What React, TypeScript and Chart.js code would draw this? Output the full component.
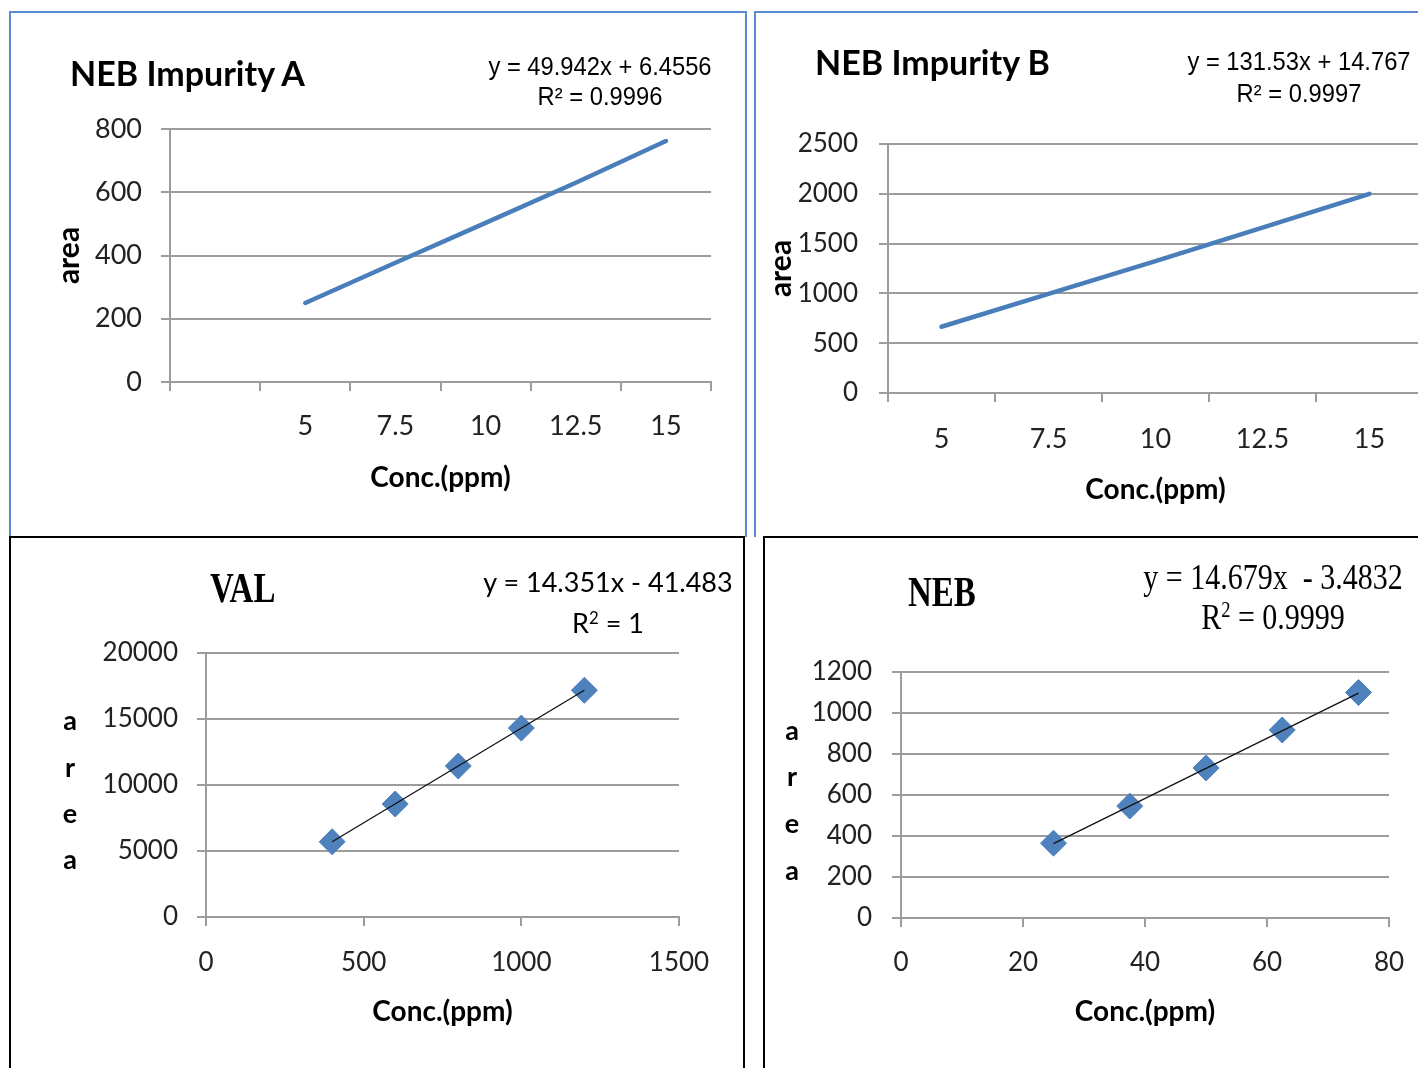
import React, { useEffect, useRef } from "react";
import { Chart, registerables } from "chart.js";

Chart.register(...registerables);

// ---------------- data ----------------
const impurityAConc = ["", "5", "7.5", "10", "12.5", "15"];
const impurityAArea = [null, 250, 377, 503, 630, 762];
const impurityARange = [0, 800];
const impurityAStep = 200;

const impurityBConc = ["5", "7.5", "10", "12.5", "15"];
const impurityBArea = [665, 995, 1325, 1660, 2000];
const impurityBRange = [0, 2500];
const impurityBStep = 500;

const valConc = [400, 600, 800, 1000, 1200];
const valArea = [5700, 8560, 11440, 14310, 17180];
const valTrendConc = [400, 1200];
const valTrendArea = [5700, 17180];
const valXRange = [0, 1500];
const valXStep = 500;
const valYRange = [0, 20000];
const valYStep = 5000;

const nebConc = [25, 37.5, 50, 62.5, 75];
const nebArea = [365, 546, 732, 917, 1100];
const nebTrendConc = [25, 75];
const nebTrendArea = [363, 1097];
const nebXRange = [0, 80];
const nebXStep = 20;
const nebYRange = [0, 1200];
const nebYStep = 200;

const titles = ["NEB Impurity A", "NEB Impurity B", "VAL", "NEB"];
const equations = [
  "y = 49.942x + 6.4556",
  "y = 131.53x + 14.767",
  "y = 14.351x - 41.483",
  "y = 14.679x  - 3.4832",
];
const rSquared = ["0.9996", "0.9997", "1", "0.9999"];
const xAxisTitle = "Conc.(ppm)";
const yAxisTitle = "area";

// ---------------- styles ----------------
const SANS = "Lato, 'Open Sans', sans-serif";
const ARIAL = "'Liberation Sans', Arial, sans-serif";
const SERIF = "'Liberation Serif', 'Times New Roman', serif";
const GRID = "#9c9c9c";
const TICK = "#222222";
const LINE_BLUE = "#4a7ebb";
const MARKER_BLUE = "#4f81bd";
const PANEL_BLUE = "#5b8bd6";

const fmt = (v: any) => String(v);

function baseOptions(padding: any, scales: any) {
  return {
    responsive: false,
    maintainAspectRatio: false,
    animation: false,
    devicePixelRatio: 1,
    events: [],
    layout: { padding },
    plugins: {
      legend: { display: false },
      tooltip: { enabled: false },
      title: { display: false },
    },
    scales,
  };
}

function gridOpts(onArea: boolean, offset = false) {
  return {
    offset,
    drawOnChartArea: onArea,
    drawTicks: true,
    tickLength: 9,
    color: GRID,
    tickColor: GRID,
    lineWidth: 2,
    tickWidth: 2,
  };
}

function xTitle(padBottom: number) {
  return {
    display: true,
    text: xAxisTitle,
    color: "#000",
    font: { family: SANS, size: 28, weight: "bold", lineHeight: 1 },
    padding: { top: 0, bottom: padBottom },
  };
}

function categoryX(height: number, tickPad: number, titlePad: number, size: number) {
  return {
    type: "category",
    offset: true,
    afterFit: (s: any) => {
      s.height = height;
    },
    grid: gridOpts(false, true),
    border: { display: true, color: GRID, width: 2 },
    ticks: {
      padding: tickPad,
      color: TICK,
      font: { family: SANS, size, lineHeight: 1 },
      autoSkip: false,
      maxRotation: 0,
      minRotation: 0,
    },
    title: xTitle(titlePad),
  };
}

function linearX(range: number[], step: number, height: number, tickPad: number, titlePad: number, size: number) {
  return {
    type: "linear",
    min: range[0],
    max: range[1],
    afterFit: (s: any) => {
      s.height = height;
    },
    grid: gridOpts(false),
    border: { display: true, color: GRID, width: 2 },
    ticks: {
      stepSize: step,
      padding: tickPad,
      color: TICK,
      font: { family: SANS, size, lineHeight: 1 },
      autoSkip: false,
      maxRotation: 0,
      minRotation: 0,
      callback: fmt,
    },
    title: xTitle(titlePad),
  };
}

function linearY(range: number[], step: number, width: number, tickPad: number, size: number, titlePad: number | null) {
  return {
    type: "linear",
    min: range[0],
    max: range[1],
    afterFit: (s: any) => {
      s.width = width;
    },
    grid: gridOpts(true),
    border: { display: true, color: GRID, width: 2 },
    ticks: {
      stepSize: step,
      padding: tickPad,
      color: TICK,
      font: { family: SANS, size, lineHeight: 1 },
      callback: fmt,
    },
    title:
      titlePad === null
        ? { display: false }
        : {
            display: true,
            text: yAxisTitle,
            color: "#000",
            font: { family: SANS, size: 30, weight: "bold", lineHeight: 1 },
            padding: { top: titlePad, bottom: 0 },
          },
  };
}

const buildA = () => ({
  type: "line",
  data: {
    labels: impurityAConc,
    datasets: [
      {
        data: impurityAArea,
        borderColor: LINE_BLUE,
        backgroundColor: LINE_BLUE,
        borderWidth: 4.5,
        pointRadius: 0,
        tension: 0,
        borderCapStyle: "round",
        borderJoinStyle: "round",
      },
    ],
  },
  options: baseOptions(
    { left: 0, top: 117, right: 35, bottom: 0 },
    {
      x: categoryX(153, 22, 43, 27),
      y: linearY(impurityARange, impurityAStep, 160, 19, 27, 44),
    }
  ),
});

const buildB = () => ({
  type: "line",
  data: {
    labels: impurityBConc,
    datasets: [
      {
        data: impurityBArea,
        borderColor: LINE_BLUE,
        backgroundColor: LINE_BLUE,
        borderWidth: 4.5,
        pointRadius: 0,
        tension: 0,
        borderCapStyle: "round",
        borderJoinStyle: "round",
      },
    ],
  },
  options: baseOptions(
    { left: 0, top: 132, right: 52, bottom: 0 },
    {
      x: categoryX(142, 24, 31, 27),
      y: linearY(impurityBRange, impurityBStep, 133, 21, 26, 11),
    }
  ),
});

function scatterBuild(
  xs: number[],
  ys: number[],
  tx: number[],
  ty: number[],
  padding: any,
  x: any,
  y: any
) {
  return () => ({
    type: "scatter",
    data: {
      datasets: [
        {
          data: tx.map((v, i) => ({ x: v, y: ty[i] })),
          showLine: true,
          borderColor: "#111",
          borderWidth: 1.3,
          pointRadius: 0,
          order: 0,
        },
        {
          data: xs.map((v, i) => ({ x: v, y: ys[i] })),
          pointStyle: "rectRot",
          pointRadius: 13,
          backgroundColor: MARKER_BLUE,
          borderColor: MARKER_BLUE,
          borderWidth: 1,
          order: 1,
        },
      ],
    },
    options: baseOptions(padding, { x, y }),
  });
}

const buildC = scatterBuild(
  valConc,
  valArea,
  valTrendConc,
  valTrendArea,
  { left: 0, top: 116, right: 66, bottom: 0 },
  linearX(valXRange, valXStep, 151, 24, 42, 26),
  linearY(valYRange, valYStep, 196, 19, 26, null)
);

const buildD = scatterBuild(
  nebConc,
  nebArea,
  nebTrendConc,
  nebTrendArea,
  { left: 0, top: 135, right: 75, bottom: 0 },
  linearX(nebXRange, nebXStep, 150, 23, 42, 26),
  linearY(nebYRange, nebYStep, 137, 20, 26, null)
);

// ---------------- components ----------------
function ChartCanvas({ width, height, build }: { width: number; height: number; build: () => any }) {
  const ref = useRef<HTMLCanvasElement>(null);
  useEffect(() => {
    if (!ref.current) return;
    const chart = new Chart(ref.current, build());
    return () => chart.destroy();
  }, []);
  return (
    <canvas
      ref={ref}
      width={width}
      height={height}
      style={{ position: "absolute", left: 0, top: 0, width, height }}
    />
  );
}

type TxtProps = {
  x: number;
  y: number;
  align?: "left" | "center" | "right";
  sx?: number;
  sy?: number;
  style?: React.CSSProperties;
  children: React.ReactNode;
};

function Txt({ x, y, align = "left", sx = 1, sy = 1, style, children }: TxtProps) {
  const tx = align === "left" ? "0" : align === "center" ? "-50%" : "-100%";
  return (
    <div
      style={{
        position: "absolute",
        left: x,
        top: y,
        whiteSpace: "pre",
        lineHeight: 1,
        color: "#000",
        transformOrigin: "0 0",
        transform: `scale(${sx},${sy}) translate(${tx},-50%)`,
        ...style,
      }}
    >
      {children}
    </div>
  );
}

const Sup = ({ children }: { children: React.ReactNode }) => (
  <span style={{ fontSize: "0.62em", position: "relative", top: "-0.55em", lineHeight: 0 }}>{children}</span>
);

function Panel({
  left,
  top,
  width,
  height,
  children,
}: {
  left: number;
  top: number;
  width: number;
  height: number;
  children: React.ReactNode;
}) {
  return <div style={{ position: "absolute", left, top, width, height }}>{children}</div>;
}

function Border({ left, top, width, height, color, sides }: any) {
  return (
    <div
      style={{
        position: "absolute",
        left,
        top,
        width,
        height,
        boxSizing: "border-box",
        borderStyle: "solid",
        borderColor: color,
        borderWidth: `${sides[0]}px ${sides[1]}px ${sides[2]}px ${sides[3]}px`,
        pointerEvents: "none",
      }}
    />
  );
}

function StackedArea({ x, ys }: { x: number; ys: number[] }) {
  const letters = yAxisTitle.split("");
  return (
    <>
      {letters.map((ch, i) => (
        <Txt key={i} x={x} y={ys[i]} align="center" style={{ fontFamily: SANS, fontWeight: 700, fontSize: 27 }}>
          {ch}
        </Txt>
      ))}
    </>
  );
}

export default function App() {
  return (
    <div
      style={{
        position: "fixed",
        left: 0,
        top: 0,
        width: 1418,
        height: 1068,
        overflow: "hidden",
        background: "#fff",
      }}
    >
      {/* Panel A */}
      <Panel left={10} top={12} width={736} height={523}>
        <ChartCanvas width={736} height={523} build={buildA} />
        <Txt x={60} y={61} style={{ fontFamily: SANS, fontWeight: 700, fontSize: 34 }}>
          {titles[0]}
        </Txt>
        <Txt x={590} y={54} align="center" sx={0.95} style={{ fontFamily: ARIAL, fontSize: 25 }}>
          {equations[0]}
        </Txt>
        <Txt x={590} y={84} align="center" sx={0.95} style={{ fontFamily: ARIAL, fontSize: 25 }}>
          {"R² = " + rSquared[0]}
        </Txt>
      </Panel>

      {/* Panel B */}
      <Panel left={755} top={12} width={720} height={523}>
        <ChartCanvas width={720} height={523} build={buildB} />
        <Txt x={60} y={50} style={{ fontFamily: SANS, fontWeight: 700, fontSize: 34 }}>
          {titles[1]}
        </Txt>
        <Txt x={544} y={49} align="center" sx={0.95} style={{ fontFamily: ARIAL, fontSize: 25 }}>
          {equations[1]}
        </Txt>
        <Txt x={544} y={81} align="center" sx={0.95} style={{ fontFamily: ARIAL, fontSize: 25 }}>
          {"R² = " + rSquared[1]}
        </Txt>
      </Panel>

      {/* Panel C */}
      <Panel left={10} top={537} width={735} height={531}>
        <ChartCanvas width={735} height={531} build={buildC} />
        <Txt x={200} y={51} sy={1.3} style={{ fontFamily: SERIF, fontWeight: 700, fontSize: 33 }}>
          {titles[2]}
        </Txt>
        <Txt x={598} y={44} align="center" style={{ fontFamily: SANS, fontSize: 27 }}>
          {equations[2]}
        </Txt>
        <Txt x={598} y={85} align="center" style={{ fontFamily: SANS, fontSize: 27 }}>
          R<Sup>2</Sup>
          {" = " + rSquared[2]}
        </Txt>
        <StackedArea x={60} ys={[182, 229, 275, 321]} />
      </Panel>

      {/* Panel D */}
      <Panel left={764} top={537} width={700} height={531}>
        <ChartCanvas width={700} height={531} build={buildD} />
        <Txt x={144} y={55} sy={1.3} style={{ fontFamily: SERIF, fontWeight: 700, fontSize: 33 }}>
          {titles[3]}
        </Txt>
        <Txt x={509} y={40} align="center" sy={1.2} style={{ fontFamily: SERIF, fontSize: 30 }}>
          {equations[3]}
        </Txt>
        <Txt x={509} y={80} align="center" sy={1.2} style={{ fontFamily: SERIF, fontSize: 30 }}>
          R<Sup>2</Sup>
          {" = " + rSquared[3]}
        </Txt>
        <StackedArea x={28} ys={[192, 238, 285, 332]} />
      </Panel>

      <Border left={9} top={11} width={738} height={526} color={PANEL_BLUE} sides={[2, 2, 0, 2]} />
      <Border left={754} top={11} width={700} height={526} color={PANEL_BLUE} sides={[2, 0, 0, 2]} />
      <Border left={9} top={536} width={736} height={600} color="#000" sides={[2, 2, 0, 2]} />
      <Border left={763} top={536} width={700} height={600} color="#000" sides={[2, 0, 0, 2]} />
    </div>
  );
}
